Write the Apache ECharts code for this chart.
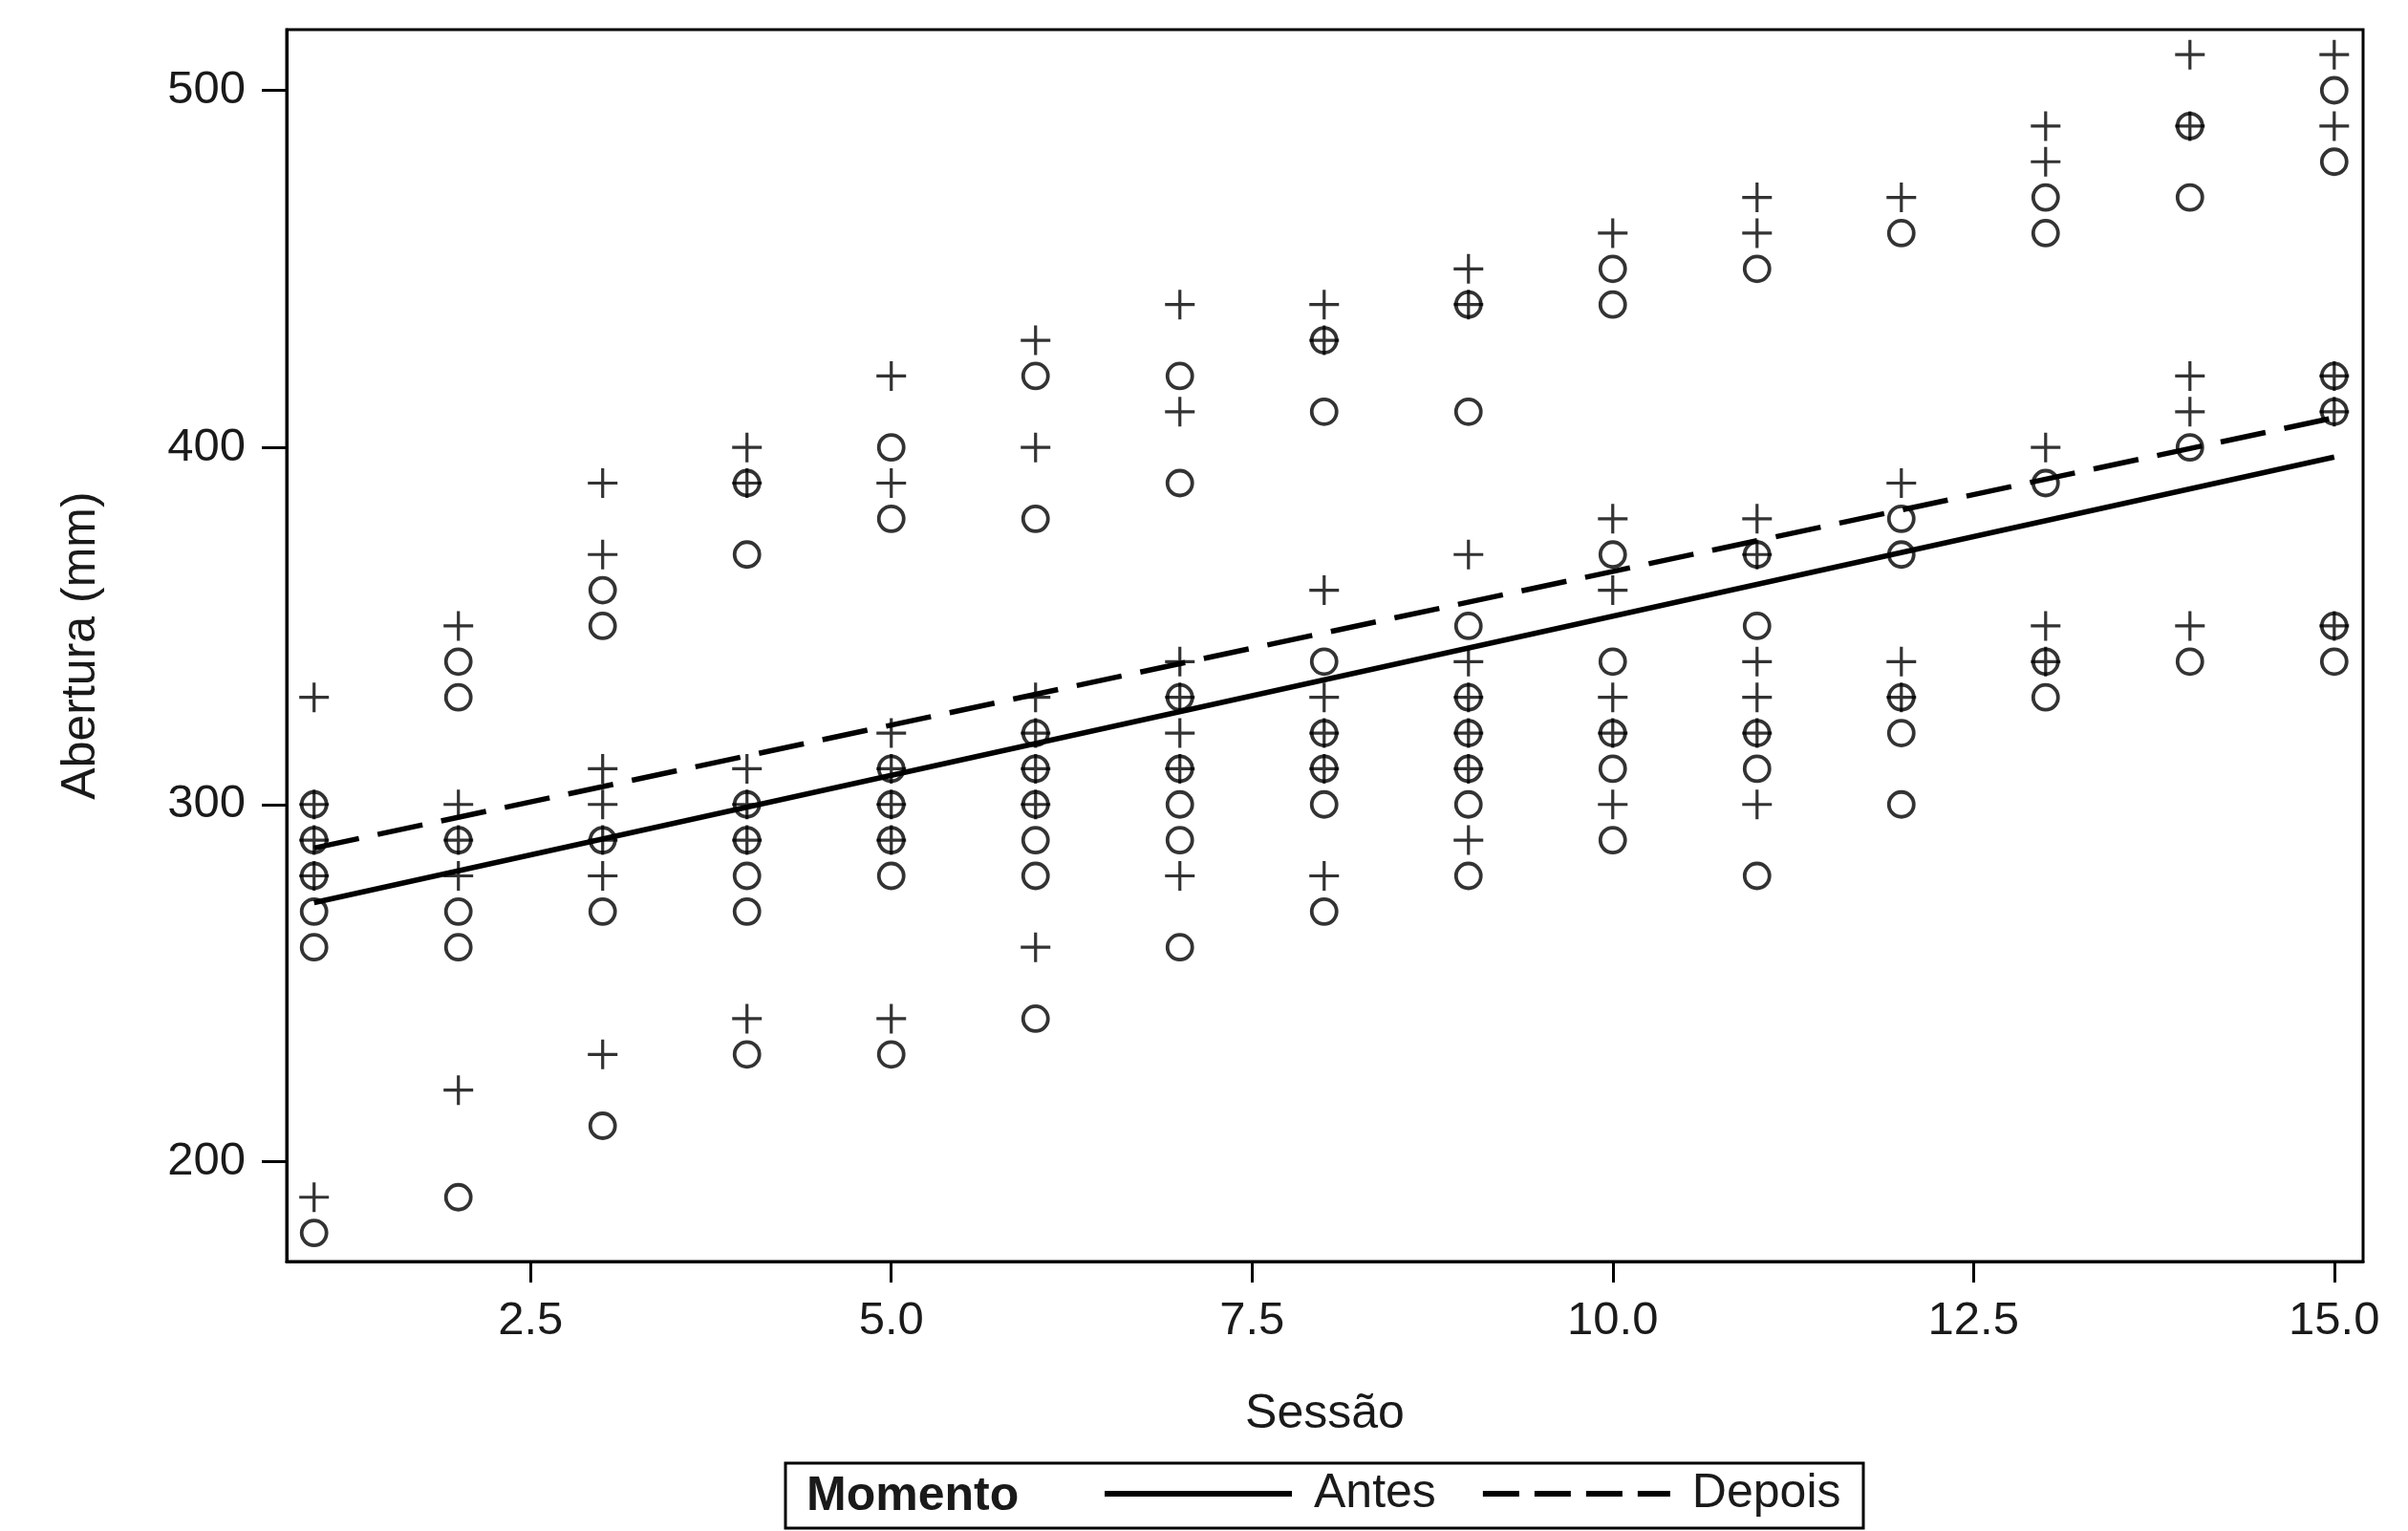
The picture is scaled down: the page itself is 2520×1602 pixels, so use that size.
<!DOCTYPE html>
<html><head><meta charset="utf-8">
<script src="https://cdn.jsdelivr.net/npm/echarts@6/dist/echarts.min.js"></script>
<style>html,body{margin:0;padding:0;background:#fff}#c{width:2520px;height:1602px}</style>
</head><body><div id="c"></div>
<script>
// Sessions (x values)
const sessoes = [1, 2, 3, 4, 5, 6, 7, 8, 9, 10, 11, 12, 13, 14, 15];
// Abertura (mm) observed per session - Antes (circles)
const antes = [
  [300, 290, 280, 270, 260, 180],
  [340, 330, 290, 270, 260, 190],
  [360, 350, 290, 270, 210],
  [390, 370, 300, 290, 280, 270, 230],
  [400, 380, 310, 300, 290, 280, 230],
  [420, 380, 320, 310, 300, 290, 280, 240],
  [420, 390, 330, 310, 300, 290, 260],
  [430, 410, 340, 320, 310, 300, 270],
  [440, 410, 350, 330, 320, 310, 300, 280],
  [450, 440, 370, 340, 320, 310, 290],
  [450, 370, 350, 320, 310, 280],
  [460, 380, 370, 330, 320, 300],
  [470, 460, 390, 340, 330],
  [490, 470, 400, 340],
  [500, 480, 420, 410, 350, 340]
];
// Abertura (mm) observed per session - Depois (plus signs)
const depois = [
  [330, 300, 290, 280, 190],
  [350, 300, 290, 280, 220],
  [390, 370, 310, 300, 290, 280, 230],
  [400, 390, 310, 300, 290, 240],
  [420, 390, 320, 310, 300, 290, 240],
  [430, 400, 330, 320, 310, 300, 260],
  [440, 410, 340, 330, 320, 310, 280],
  [440, 430, 360, 330, 320, 310, 280],
  [450, 440, 370, 340, 330, 320, 310, 290],
  [460, 380, 360, 330, 320, 300],
  [470, 460, 380, 370, 340, 330, 320, 300],
  [470, 390, 340, 330],
  [490, 480, 400, 350, 340],
  [510, 490, 420, 410, 350],
  [510, 490, 420, 410, 350]
];
// Fitted lines (read at session 1 and 15)
const ajusteX = [1, 15];
const ajusteAntes = [272.5, 397.3];
const ajusteDepois = [287.8, 408.3];
// Tick labels
const xTicks = [2.5, 5, 7.5, 10, 12.5, 15];
const yTicks = [200, 300, 400, 500];

function pontos(grupos) {
  const out = [];
  sessoes.forEach((s, i) => grupos[i].forEach(v => out.push([s, v])));
  return out;
}
function linha(ys) { return ajusteX.map((x, i) => [x, ys[i]]); }

const FONT = '"Liberation Sans", Arial, Helvetica, sans-serif';
const TXT = '#1a1a1a';
const plusPath = 'path://M10,0 L10,20 M0,10 L20,10';

const chart = echarts.init(document.getElementById('c'), null, {renderer: 'canvas'});
chart.setOption({
  backgroundColor: '#fff',
  animation: false,
  textStyle: {fontFamily: FONT},
  grid: {left: 300, top: 31, right: 47, bottom: 282, show: true, borderColor: '#000', borderWidth: 3, backgroundColor: 'transparent', outerBoundsMode: 'none'},
  xAxis: {
    type: 'value', min: 0.81, max: 15.2,
    name: 'Sessão', nameLocation: 'middle', nameGap: 135,
    nameTextStyle: {fontSize: 50, color: TXT, fontFamily: FONT},
    axisLine: {show: true, onZero: false, lineStyle: {color: '#000', width: 3}},
    axisTick: {show: true, length: 22, customValues: xTicks, lineStyle: {color: '#000', width: 3}},
    axisLabel: {customValues: xTicks, margin: 38, fontSize: 49, color: TXT, fontFamily: FONT, formatter: v => v.toFixed(1)},
    splitLine: {show: false}
  },
  yAxis: {
    type: 'value', min: 172, max: 517,
    name: 'Abertura (mm)', nameLocation: 'middle', nameGap: 190, nameRotate: 90,
    nameTextStyle: {fontSize: 50, color: TXT, fontFamily: FONT},
    axisLine: {show: true, onZero: false, lineStyle: {color: '#000', width: 3}},
    axisTick: {show: true, length: 26, customValues: yTicks, lineStyle: {color: '#000', width: 3}},
    axisLabel: {customValues: yTicks, margin: 43, fontSize: 49, color: TXT, fontFamily: FONT},
    splitLine: {show: false}
  },
  legend: {
    data: [
      {name: 'Antes', lineStyle: {width: 6, type: 'solid', color: '#000'}},
      {name: 'Depois', lineStyle: {width: 6, type: [38, 16], color: '#000'}}
    ],
    left: 1153, top: 1538, padding: 0,
    itemWidth: 196, itemHeight: 20, itemGap: 46,
    itemStyle: {color: 'rgba(0,0,0,0)', borderWidth: 0, opacity: 0},
    textStyle: {fontSize: 50, color: TXT, fontFamily: FONT, padding: [0, 0, 0, 18]}
  },
  graphic: [
    {type: 'rect', shape: {x: 822, y: 1531, width: 1128, height: 68}, style: {fill: 'none', stroke: '#000', lineWidth: 3}, z: 10},
    {type: 'text', x: 844, y: 1566, style: {text: 'Momento', font: 'bold 50px ' + FONT, fill: TXT, verticalAlign: 'middle', textAlign: 'left'}, z: 10}
  ],
  series: [
    {
      name: 'Antes (obs)', type: 'scatter', data: pontos(antes),
      symbol: 'circle', symbolSize: 26,
      itemStyle: {color: 'none', borderColor: '#000', borderWidth: 3.8}
    },
    {
      name: 'Depois (obs)', type: 'scatter', data: pontos(depois),
      symbol: plusPath, symbolSize: 31,
      itemStyle: {color: 'none', borderColor: '#000', borderWidth: 3.2}
    },
    {
      name: 'Antes', type: 'line', data: linha(ajusteAntes), symbol: 'none',
      lineStyle: {color: '#000', width: 5.5, type: 'solid'}, itemStyle: {color: '#000'}, z: 5
    },
    {
      name: 'Depois', type: 'line', data: linha(ajusteDepois), symbol: 'none',
      lineStyle: {color: '#000', width: 5.5, type: [48, 20]}, itemStyle: {color: '#000'}, z: 5
    }
  ]
});
</script></body></html>
